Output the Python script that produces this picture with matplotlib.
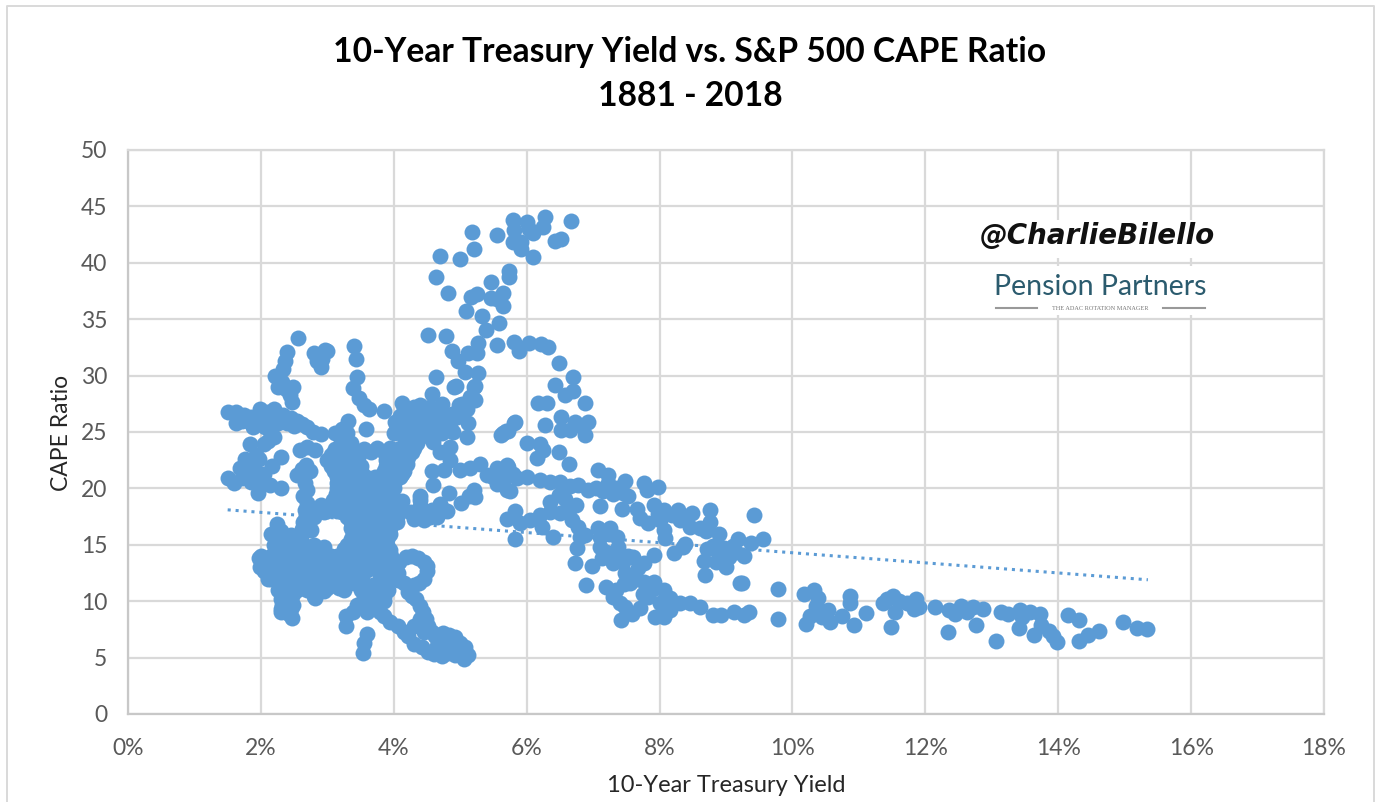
import matplotlib
matplotlib.use("Agg")
import matplotlib.pyplot as plt
from matplotlib.ticker import FuncFormatter
from matplotlib.patches import Rectangle
from matplotlib.lines import Line2D
import numpy as np

title_lines = "10-Year Treasury Yield vs. S&P 500 CAPE Ratio\n1881 - 2018"
x_label = "10-Year Treasury Yield"
y_label = "CAPE Ratio"
x_ticks = [0, 2, 4, 6, 8, 10, 12, 14, 16, 18]
y_ticks = [0, 5, 10, 15, 20, 25, 30, 35, 40, 45, 50]

# trend line ends
trend_x = [1.5, 15.35]
trend_y = [18.1, 11.9]

# points are (yield %, CAPE), grouped by region of the scatter
top_left = [
    (2.4, 32.1), (2.36, 31.3), (2.33, 30.6), (2.21, 30), (2.28, 29.8), (2.26, 29), (2.32, 29.4), (2.49, 29),
    (2.38, 28.8), (2.44, 28.3), (2.47, 27.7), (2.97, 32.3), (2.87, 31.8), (2.85, 31.3), (2.9, 30.8), (3.0, 32.2),
    (2.92, 31.5), (2.8, 32), (2.56, 33.3),
    (3.4, 32.6), (3.43, 31.5), (3.45, 29.9), (3.38, 28.9), (3.48, 28), (3.55, 27.4), (3.63, 27), (3.86, 26.9),
    (3.58, 25.3), (3.31, 26),
    (1.5, 26.8), (1.63, 26.8), (1.75, 26.5), (1.85, 26.3), (1.98, 27), (2.1, 26.8), (2.19, 27), (2.34, 26.5),
    (2.54, 26), (2.62, 25.7), (2.69, 25.4), (2.78, 25), (2.9, 24.8), (1.63, 25.8), (1.72, 26), (1.83, 25.9),
    (1.88, 25.4), (1.95, 26.4), (2.08, 26), (2.17, 26.4), (2.25, 25.8), (2.3, 26.3), (2.06, 25.4), (2.15, 25.6),
    (2.4, 25.8), (2.45, 26.2), (2.5, 25.5), (1.83, 23.9), (2.11, 24.2), (2.2, 24.6), (2.05, 23.9), (2.59, 23.4),
    (2.69, 23.7), (2.82, 23.4), (2.3, 22.8), (1.97, 22.6), (1.92, 23), (1.76, 22.6), (1.68, 21.8), (1.5, 20.9),
    (1.6, 20.5), (1.8, 21.2), (1.72, 20.9), (1.9, 21.8), (1.85, 20.6), (2.16, 22), (2.05, 21.3), (1.96, 19.6),
    (1.98, 20.8), (2.14, 20.3), (2.31, 20), (2.54, 21.2), (2.68, 22.1), (2.74, 21.5), (2.62, 21.7), (2.67, 20.5),
    (2.64, 19.3), (2.7, 19.9), (2.67, 18.1), (2.7, 18.7), (2.64, 17), (2.68, 17.6), (2.62, 16.4),
]
central_blob = [
    (3.12, 24.9), (3.3, 24.9), (3.22, 25.3), (3.2, 24), (3.35, 24), (3.12, 23.5), (3.25, 23.5), (3.38, 23.5),
    (3.55, 23.5), (3.75, 23.6), (3.95, 23.6), (4.1, 23.6), (4.25, 23.6), (4.35, 24), (3.05, 23), (3.2, 23),
    (3.35, 23), (3.48, 23), (3.9, 23), (4.05, 23), (4.2, 23), (4.28, 23.2),
    (3.0, 22.5), (3.15, 22.5), (3.3, 22.5), (3.45, 22.5), (3.88, 22.5), (4.0, 22.5), (4.15, 22.5), (4.22, 22.8),
    (3.05, 22), (3.2, 22), (3.35, 22), (3.5, 22), (3.88, 22), (4.0, 22), (4.12, 22), (4.2, 22.2),
    (3.1, 21.5), (3.25, 21.5), (3.4, 21.5), (3.5, 21.5), (3.85, 21.5), (3.95, 21.5), (4.05, 21.5), (4.15, 21.5),
    (3.15, 21), (3.3, 21), (3.45, 21), (3.58, 21), (3.72, 21), (3.87, 21), (4.0, 21), (4.1, 21),
    (3.15, 20.5), (3.25, 20.5), (3.4, 20.5), (3.55, 20.5), (3.7, 20.5), (3.85, 20.5), (4.0, 20.5),
    (3.15, 20), (3.3, 20), (3.45, 20), (3.6, 20), (3.75, 20), (3.9, 20), (4.0, 20),
    (3.13, 19.5), (3.3, 19.5), (3.45, 19.5), (3.6, 19.5), (3.75, 19.5), (3.9, 19.5),
    (3.08, 19), (3.25, 19), (3.4, 19), (3.55, 19), (3.7, 19), (3.85, 19), (4.0, 19), (4.12, 18.9),
    (2.9, 18.5), (3.05, 18.5), (3.2, 18.5), (3.35, 18.5), (3.5, 18.5), (3.65, 18.5), (3.8, 18.5), (3.95, 18.5),
    (2.85, 18), (3.0, 18), (3.15, 18), (3.3, 18), (3.45, 18), (3.6, 18), (3.75, 18), (3.9, 18), (4.05, 18),
    (2.8, 17.5), (2.95, 17.9), (3.3, 17.5), (3.45, 17.5), (3.6, 17.5), (3.75, 17.5), (3.9, 17.5), (4.05, 17.5),
    (2.72, 17), (3.35, 17), (3.5, 17), (3.65, 17), (3.8, 17), (3.95, 17), (4.05, 17),
    (3.35, 16.5), (3.5, 16.5), (3.65, 16.5), (3.8, 16.5), (3.95, 16.5),
    (3.38, 16), (3.5, 16), (3.65, 16), (3.8, 16), (3.95, 16),
    (2.62, 16), (2.75, 16.3), (3.35, 15.5), (3.5, 15.5), (3.65, 15.5), (3.8, 15.5), (3.9, 15.5),
    (3.3, 15), (3.45, 15), (3.6, 15), (3.75, 15), (3.9, 15), (3.25, 14.6), (3.4, 14.5), (3.55, 14.5), (3.7, 14.5),
    (3.85, 14.5), (3.95, 14.5), (3.25, 14), (3.4, 14), (3.55, 14), (3.7, 14), (3.85, 14), (3.96, 14),
    (3.3, 13.5), (3.45, 13.5), (3.6, 13.5), (3.75, 13.5), (3.9, 13.5), (3.15, 13), (3.3, 13), (3.45, 13), (3.6, 13),
    (3.75, 13), (3.95, 13), (3.15, 12.5), (3.3, 12.5), (3.45, 12.5), (3.6, 12.8), (3.78, 12.6), (3.9, 12.6),
    (3.2, 12), (3.35, 12), (3.5, 12), (3.8, 12), (3.9, 12), (3.4, 11.6), (3.55, 11.4), (3.68, 11.4), (3.8, 11.3),
    (3.9, 11.5), (3.5, 11), (3.65, 11), (3.8, 11), (3.92, 11), (3.55, 10.4), (3.7, 10.3), (3.85, 10.4),
    (3.55, 10), (3.7, 10), (3.85, 10), (3.6, 9.5), (3.75, 9.6), (3.6, 9), (3.8, 9), (2.95, 14.8),
    (4.1, 18.5), (4.25, 17.9), (4.4, 18.4), (4.45, 17.2), (4.55, 17.5), (4.4, 19), (4.8, 18), (4.65, 17.5),
    (4.3, 17.3), (4.7, 18.6), (4.57, 18.1), (4.39, 19.3), (4.69, 18.5), (4.09, 18.5), (4.83, 19.6), (5.01, 18.7),
    (5.2, 19.9), (5.13, 19.3), (5.22, 19.2),
]
blob_fill = [
    (3.1, 23.25), (3.28, 23.25), (3.43, 23.25), (3.65, 23.25), (3.85, 23.25), (4.0, 23.25), (4.15, 23.25), (4.3, 23.6),
    (3.08, 22.25), (3.25, 22.25), (3.4, 22.25), (3.93, 22.25), (4.08, 22.25), (4.18, 22.4),
    (3.2, 21.25), (3.35, 21.25), (3.52, 21.25), (3.9, 21.25), (4.03, 21.25), (4.13, 21.25),
    (3.2, 20.25), (3.38, 20.25), (3.52, 20.25), (3.67, 20.25), (3.82, 20.25), (3.97, 20.25),
    (3.2, 19.25), (3.37, 19.25), (3.52, 19.25), (3.67, 19.25), (3.82, 19.25), (3.97, 19.25),
    (2.97, 18.25), (3.12, 18.25), (3.27, 18.25), (3.42, 18.25), (3.57, 18.25), (3.72, 18.25), (3.87, 18.25), (4.02, 18.25),
    (3.38, 17.25), (3.52, 17.25), (3.67, 17.25), (3.82, 17.25), (3.97, 17.25),
    (3.42, 16.25), (3.57, 16.25), (3.72, 16.25), (3.87, 16.25),
    (3.42, 15.25), (3.57, 15.25), (3.72, 15.25), (3.85, 15.25),
    (3.32, 14.25), (3.47, 14.25), (3.62, 14.25), (3.77, 14.25), (3.9, 14.25),
    (3.22, 13.25), (3.37, 13.25), (3.52, 13.25), (3.67, 13.25), (3.82, 13.25),
    (3.22, 12.25), (3.37, 12.25), (3.52, 12.25), (3.85, 12.25),
    (2.3, 14.75), (2.45, 14.75), (2.6, 14.75), (2.75, 14.75),
    (2.2, 13.75), (2.35, 13.75), (2.5, 13.75), (2.65, 13.75), (2.8, 13.75), (2.95, 13.75), (3.1, 13.75),
    (2.05, 13.25), (2.2, 13.25), (2.35, 13.25), (2.5, 13.25), (2.65, 13.25), (2.8, 13.25), (2.95, 13.25), (3.1, 13.25),
    (2.12, 12.25), (2.27, 12.25), (2.42, 12.25), (2.57, 12.25), (2.72, 12.25), (2.87, 12.25), (3.02, 12.25),
    (2.32, 11.25), (2.47, 11.25), (2.62, 11.25), (2.77, 11.25), (2.92, 11.25), (3.1, 11.4),
    (4.1, 26.4), (4.25, 26.1), (4.4, 25.9), (4.6, 25.5), (4.3, 24.9), (4.5, 25.3), (4.65, 25.2), (4.8, 26),
    (4.85, 25.4), (4.15, 27), (4.4, 27.4), (4.65, 27), (4.05, 25.4), (4.1, 24.9),
]
lower_left = [
    (2.24, 16.8), (2.15, 16), (2.3, 16.2), (2.45, 15.9), (2.25, 15.8), (2.35, 15.5), (2.5, 15.4), (2.2, 15),
    (2.35, 15), (2.5, 15), (2.65, 15), (2.8, 15), (2.25, 14.6), (2.4, 14.5), (2.55, 14.5), (2.7, 14.5), (2.85, 14.2),
    (2.0, 14), (2.15, 14), (2.3, 14), (2.45, 14), (2.6, 14), (2.75, 14), (2.9, 14), (3.05, 14), (3.15, 14),
    (1.97, 13.8), (2.1, 13.5), (2.25, 13.5), (2.4, 13.5), (2.55, 13.5), (2.7, 13.5), (2.85, 13.4), (3.0, 13.4),
    (3.15, 13.4), (1.98, 13), (2.13, 13), (2.28, 13), (2.43, 13), (2.58, 13), (2.73, 13), (2.88, 13), (3.03, 13),
    (2.05, 12.7), (2.2, 12.5), (2.35, 12.5), (2.5, 12.5), (2.65, 12.5), (2.8, 12.5), (2.95, 12.6), (3.08, 12.5),
    (2.1, 12), (2.25, 12), (2.4, 12), (2.55, 12), (2.7, 12), (2.85, 12), (3.0, 12),
    (2.15, 12), (2.3, 11.5), (2.45, 11.5), (2.6, 11.5), (2.75, 11.5), (2.9, 11.5), (3.05, 11.6), (3.17, 11.2),
    (2.25, 11), (2.4, 11), (2.55, 11), (2.7, 11), (2.85, 11), (3.0, 11.2), (3.25, 11), (2.8, 10.5), (2.95, 10.9),
    (2.33, 10.6), (2.48, 10.6), (2.3, 10.2), (2.45, 10.2), (2.82, 10.3), (2.32, 9.7), (2.48, 9.7), (2.3, 9.3),
    (2.45, 9.3), (2.3, 9), (2.42, 8.9), (2.47, 8.5),
]
lower_x = [
    (4.27, 14), (4.08, 13.5), (4.18, 13.9), (4.37, 13.8), (4.45, 13.5), (4.5, 12.7), (4.5, 13.1), (4.45, 12),
    (4.3, 11.4), (4.38, 11.6), (4.15, 11.6), (4.06, 12.5), (4.06, 11.9), (4.21, 10.8), (4.34, 10.2), (4.28, 10.5),
    (4.39, 9.6), (4.44, 9), (4.48, 8.4), (4.52, 7.8), (4.57, 7.3), (4.62, 6.9), (4.31, 7.8), (4.4, 8.4), (4.45, 7.3),
    (4.74, 7.2), (4.83, 7), (4.92, 6.8), (5.0, 6.3), (5.07, 5.9), (5.12, 5.2), (4.8, 6.3), (4.65, 6), (4.95, 5.9),
    (4.7, 6.5), (4.9, 6.2), (3.45, 9.7), (3.28, 8.7), (3.28, 7.8), (3.38, 9), (3.6, 7.1), (3.55, 6.3), (3.54, 5.4),
    (3.86, 8.7), (3.95, 8.2), (4.06, 7.8), (4.15, 7.3), (4.21, 6.9), (4.31, 6.2), (4.42, 5.9), (4.52, 5.5),
    (4.72, 5.1), (4.92, 5.2), (5.05, 4.9), (4.6, 5.3), (4.82, 5.4), (4.98, 5.4), (4.7, 5.6),
]
middle_hump = [
    (4.12, 27.6), (4.02, 25.9), (4.0, 24.9), (4.24, 26.6), (4.15, 26), (4.34, 25.5), (4.44, 27), (4.54, 27.2),
    (4.72, 27.5), (4.57, 28.4), (4.69, 26.4), (4.87, 26.6), (4.55, 26), (4.95, 26.3), (5.12, 25.8), (5.1, 24.6),
    (4.89, 25), (4.17, 24.7), (4.39, 24.6), (4.59, 24.1), (4.84, 23.7), (4.69, 23.2), (4.84, 22.5), (4.57, 21.5),
    (4.59, 20.3), (4.75, 21.6), (5.0, 21.6), (5.3, 22.2), (5.15, 21.8), (5.4, 21.2), (5.55, 21.8), (5.72, 21.9),
    (5.55, 20.4), (5.75, 19.8), (5.7, 21.6), (5.5, 21), (5.65, 20.7), (5.85, 20.9), (5.82, 25.9), (5.65, 24.9),
    (5.72, 25.1), (5.22, 29.1), (5.15, 28.1), (5.02, 27.5), (4.93, 29.1), (4.35, 26.8), (4.45, 26.2), (4.28, 25.4),
    (4.55, 25), (4.72, 24.9), (4.78, 25.6), (4.2, 25.4), (4.47, 24.7), (4.3, 27.2), (5.22, 27.8), (5.1, 27),
]
upper_plume = [
    (6.28, 44.1), (6.67, 43.7), (5.79, 43.8), (6.0, 43.6), (5.18, 42.7), (5.55, 42.5), (5.81, 42.9), (6.04, 43),
    (6.24, 43.2), (6.09, 42.6), (5.79, 41.8), (5.91, 41.8), (5.91, 41.2), (6.42, 41.9), (6.52, 42.1), (6.09, 40.5),
    (5.21, 41.2), (4.69, 40.6), (5.0, 40.3), (4.64, 38.7), (5.73, 39.3), (5.73, 38.7), (5.46, 38.3), (4.82, 37.3),
    (5.16, 37), (5.26, 37.2), (5.46, 36.9), (5.56, 36.8), (5.64, 37.3), (5.65, 36.2), (5.09, 35.7), (5.33, 35.3),
    (5.58, 34.7), (5.39, 34), (4.52, 33.6), (4.79, 33.5), (5.27, 32.9), (5.55, 32.7), (5.81, 33), (5.88, 32.2),
    (6.03, 32.9), (6.22, 32.8), (6.32, 32.5), (4.88, 32.2), (5.12, 32), (5.26, 32), (4.97, 31.3), (6.48, 31.1),
    (5.07, 30.3), (5.27, 30.2), (6.7, 29.9), (4.64, 29.9), (6.42, 29.2), (4.9, 29), (5.21, 29), (6.57, 28.3),
    (6.7, 28.6), (5.16, 28.1), (5.08, 27.4), (4.98, 27.4), (6.17, 27.6), (6.3, 27.6), (6.88, 27.6),
    (6.52, 26.3), (5.81, 25.8), (6.27, 25.6), (5.69, 25.1), (5.61, 24.7), (6.52, 25.2), (6.65, 25.2), (6.72, 25.9),
    (6.92, 25.9), (6.88, 24.7), (6.85, 25.4),
]
middle_band = [
    (6.49, 23.2), (6.64, 22.2), (6.25, 23.4), (6.15, 22.7), (6.0, 24), (6.2, 23.9), (5.7, 22.1), (5.8, 21.3),
    (5.6, 20.5), (5.7, 19.9), (6.0, 21), (6.2, 20.75), (6.35, 20.6), (6.5, 20.6), (6.65, 20.2), (6.78, 20.3),
    (6.93, 19.9), (7.05, 20), (7.07, 21.6), (7.23, 21.2), (7.48, 20.7), (7.23, 20.5), (7.36, 20), (7.53, 19.3),
    (7.76, 20.5), (7.81, 19.9), (7.97, 20.1), (7.15, 19.8), (7.3, 19.5), (7.45, 19.6),
    (7.1, 18.4), (7.43, 18.2), (7.66, 18.2), (7.71, 17.4), (7.91, 18.5), (7.83, 16.9), (8.06, 18.1), (8.01, 17.2),
    (8.28, 18.1), (8.49, 17.8), (8.31, 17.2), (8.46, 16.6), (8.61, 16.5), (7.98, 17.7), (8.18, 17.6),
    (6.48, 19.4), (6.35, 18.8), (6.58, 19.1), (6.74, 18.5), (6.63, 18.1), (6.5, 17.8), (6.35, 17.9), (6.2, 17.6),
    (6.05, 17.2), (5.83, 18), (5.71, 17.3), (5.9, 16.9), (5.83, 15.5), (6.23, 16.6), (6.4, 15.7), (6.68, 17.2),
    (6.78, 16.6), (6.88, 15.9), (6.8, 15.7), (6.75, 14.7), (6.73, 13.4), (6.89, 11.4), (7.08, 16.5), (7.26, 16.5),
    (7.1, 15.7), (7.36, 15.7), (7.1, 14.8), (7.38, 14.8), (7.53, 14), (7.13, 13.8), (6.98, 13.1), (7.3, 13.4),
    (7.45, 13.5), (7.76, 13.4), (7.91, 14.1), (7.68, 12.9), (7.24, 16), (7.2, 14.4), (7.35, 14.2), (7.6, 13.9),
    (8.06, 16.3), (8.08, 15.6), (8.38, 15.1), (8.21, 14.3), (8.36, 14.8),
    (8.76, 18.1), (8.76, 17), (8.9, 16), (8.7, 16.2), (8.67, 13.6), (8.72, 14.6), (8.85, 13.5), (8.97, 14.7),
    (9.1, 14.9), (8.9, 14.2), (8.8, 14.9), (9.05, 13.9), (9.18, 15.5), (9.37, 15.2), (9.55, 15.5), (9.42, 17.6),
    (9.27, 14), (9.15, 14.4), (9.0, 13), (8.95, 13.4), (8.69, 12.3), (9.21, 11.6), (9.24, 11.6),
]
lower_arc = [
    (7.2, 11.3), (7.3, 10.4), (7.48, 12.5), (7.56, 11.6), (7.76, 11.7), (7.91, 11.7), (8.06, 11), (7.35, 11),
    (7.4, 9.8), (7.42, 8.3), (7.58, 8.9), (7.71, 9.4), (7.93, 8.6), (8.06, 8.6), (8.16, 9.2), (7.83, 10.4),
    (8.01, 9.8), (8.31, 9.8), (8.46, 9.8), (8.61, 9.5), (7.46, 11.5), (7.48, 9.5), (7.65, 12), (7.9, 11.1),
    (8.15, 10.3), (7.75, 10.6), (8.8, 8.8), (8.93, 8.8), (9.12, 9), (9.27, 8.8), (9.34, 9),
]
right_tail = [
    (9.78, 11.1), (9.78, 8.4), (10.18, 10.6), (10.33, 11), (10.38, 10.3), (10.35, 9.6), (10.54, 9.2), (10.26, 8.7),
    (10.2, 8), (10.44, 8.6), (10.57, 8.2), (10.75, 8.7), (10.92, 7.9), (10.87, 10.5), (10.87, 9.8), (11.1, 8.95),
    (11.48, 7.7), (11.54, 9), (11.43, 10.2), (11.37, 9.8), (11.52, 10.5), (11.6, 10), (11.73, 9.8), (11.86, 10.2),
    (11.83, 9.3), (11.9, 9.5), (12.15, 9.5), (12.35, 9.2), (12.44, 8.9), (12.54, 9.6), (12.63, 9), (12.72, 9.5),
    (12.87, 9.3), (12.34, 7.3), (12.77, 7.9), (13.07, 6.5), (13.14, 9), (13.24, 8.9), (13.43, 9.2), (13.46, 8.6),
    (13.58, 9), (13.72, 8.9), (13.41, 7.6), (13.74, 7.9), (13.64, 7), (13.86, 7.4), (13.92, 6.9), (13.98, 6.4),
    (14.14, 8.8), (14.32, 8.3), (14.31, 6.5), (14.45, 7), (14.62, 7.4), (14.98, 8.2), (15.18, 7.6), (15.33, 7.5),
]

point_groups = [top_left, central_blob, blob_fill, lower_left, lower_x, middle_hump, upper_plume,
                middle_band, lower_arc, right_tail]

BLUE = '#5B9BD5'
GRID = '#D9D9D9'
W, H = 1375, 802


# pixel position in the reference -> figure fraction
def fx(px):
    return px / W


def fy(py):
    return 1 - py / H


plt.rcParams['font.family'] = ['Lato', 'DejaVu Sans']

fig = plt.figure(figsize=(W / 100, H / 100), dpi=100)
ax = fig.add_axes([fx(128), fy(714), fx(1324) - fx(128), fy(150) - fy(714)])

points = np.array([p for group in point_groups for p in group])

ax.plot(trend_x, trend_y, linestyle=(0, (1, 1.6)), color=BLUE, linewidth=2.2, zorder=2)
ax.scatter(points[:, 0], points[:, 1], s=132, color=BLUE, linewidths=0, zorder=3)

ax.set_xlim(0, 18)
ax.set_ylim(0, 50)
ax.set_xticks(x_ticks)
ax.set_yticks(y_ticks)
ax.xaxis.set_major_formatter(FuncFormatter(lambda v, pos: '{:.0f}%'.format(v)))
ax.grid(True, color=GRID, linewidth=1.6, zorder=0)
ax.set_axisbelow(True)
for side in ax.spines:
    ax.spines[side].set_color(GRID)
    ax.spines[side].set_linewidth(1.6)
ax.spines['left'].set_color('#C8C8C8')
ax.spines['bottom'].set_color('#C8C8C8')
ax.tick_params(axis='both', length=0, labelsize=16.5, labelcolor='#595959')
ax.tick_params(axis='x', pad=17)
ax.tick_params(axis='y', pad=15)

fig.text(fx(726), fy(786), x_label, ha='center', va='center', fontsize=17, color='#262626')
fig.text(fx(62), fy(433), y_label, ha='center', va='center', fontsize=16.5, color='#262626', rotation=90)

fig.text(fx(690), fy(74), title_lines, ha='center', va='center', fontsize=24.2, fontweight='bold',
         color='black', linespacing=1.48)

# handle and logo as plain text, on white patches that hide the grid
fig.add_artist(Rectangle((fx(975), fy(258)), fx(245), 38 / H, transform=fig.transFigure, facecolor='white',
                         edgecolor='none', zorder=1))
fig.add_artist(Rectangle((fx(990), fy(315)), fx(222), 49 / H, transform=fig.transFigure, facecolor='white',
                         edgecolor='none', zorder=1))
fig.text(fx(1097), fy(236), '@CharlieBilello', ha='center', va='center', fontsize=20, fontweight='bold',
         fontstyle='italic', family=['DejaVu Sans'], color='#111111', zorder=2)
fig.text(fx(1100), fy(287), 'Pension Partners', ha='center', va='center', fontsize=20.5,
         family=['Lato'], color='#2B5B6E', zorder=2)
fig.text(fx(1100), fy(308), 'THE ADAC ROTATION MANAGER', ha='center', va='center', fontsize=4.5,
         family=['Liberation Serif'], color='#777777', zorder=2)
fig.add_artist(Line2D([fx(996), fx(1037)], [fy(308)] * 2, color='#999999', linewidth=1.5, zorder=2))
fig.add_artist(Line2D([fx(1163), fx(1205)], [fy(308)] * 2, color='#999999', linewidth=1.5, zorder=2))

# thin outer frame of the pasted chart, open at the bottom
fig.add_artist(Line2D([fx(7), fx(7), fx(1374), fx(1374)], [0, fy(6), fy(6), 0], color=GRID, linewidth=1.4))

fig.savefig('out.png', dpi=100)
